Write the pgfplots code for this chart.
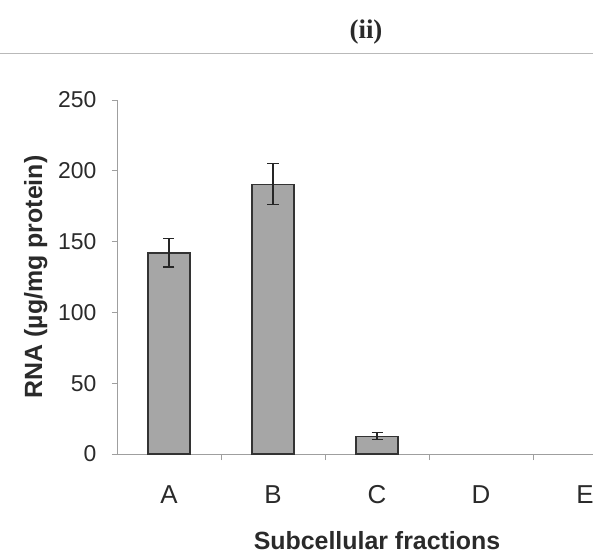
\documentclass[border=0pt]{standalone}
\usepackage{pgfplots}
\pgfplotsset{compat=1.18}
\usepackage{fontspec}
\setmainfont{Liberation Sans}
\newfontfamily\serifb{Liberation Serif}
\definecolor{barfill}{HTML}{A6A6A6}
\definecolor{txt}{HTML}{2A2A2A}
\begin{document}
\begin{tikzpicture}
\path[use as bounding box] (-117bp,-103bp) rectangle (476bp,454bp);
\draw[gray!55, line width=0.9bp] (-117bp,401bp) -- (476bp,401bp);
\node[font=\serifb\bfseries\fontsize{27}{30}\selectfont, text=txt] at (249bp,422bp) {(ii)};
\begin{axis}[
  at={(0,0)}, anchor=south west,
  scale only axis, width=520bp, height=354bp,
  xmin=-0.5, xmax=4.5, ymin=0, ymax=250,
  axis lines*=left,
  axis line style={gray!75, line width=0.7bp},
  tick align=outside,
  ytick={0,50,100,150,200,250},
  major tick length=5bp,
  minor tick length=6bp,
  tick style={gray!75, line width=0.7bp},
  xtick={0,1,2,3,4},
  xticklabels={A,B,C,D,E},
  minor xtick={0.5,1.5,2.5,3.5},
  every major x tick/.append style={draw=none},
  xticklabel style={font=\fontsize{26}{28}\selectfont, text=txt, yshift=-23bp},
  /pgf/number format/assume math mode=true,
  yticklabel style={font=\fontsize{23}{26}\selectfont, text=txt, xshift=-12bp},
  xlabel={\textbf{Subcellular fractions}},
  xlabel style={font=\fontsize{25}{28}\selectfont, text=txt, yshift=-21bp},
  ylabel={\textbf{RNA (µg/mg protein)}},
  ylabel style={font=\fontsize{25}{28}\selectfont, text=txt, yshift=4bp},
  clip=false,
]
\addplot[ybar, bar width=42bp, fill=barfill, draw=black!80, line width=1.3bp,
  error bars/.cd, y dir=both, y explicit,
  error bar style={black!85, line width=1.2bp},
  error mark options={rotate=90, mark size=5.5bp, line width=1.2bp, black!85}]
  coordinates {
    (0,142) +- (0,10)
    (1,190.5) +- (0,14.5)
    (2,12.5) +- (0,2.5)
  };
\end{axis}
\end{tikzpicture}
\end{document}
